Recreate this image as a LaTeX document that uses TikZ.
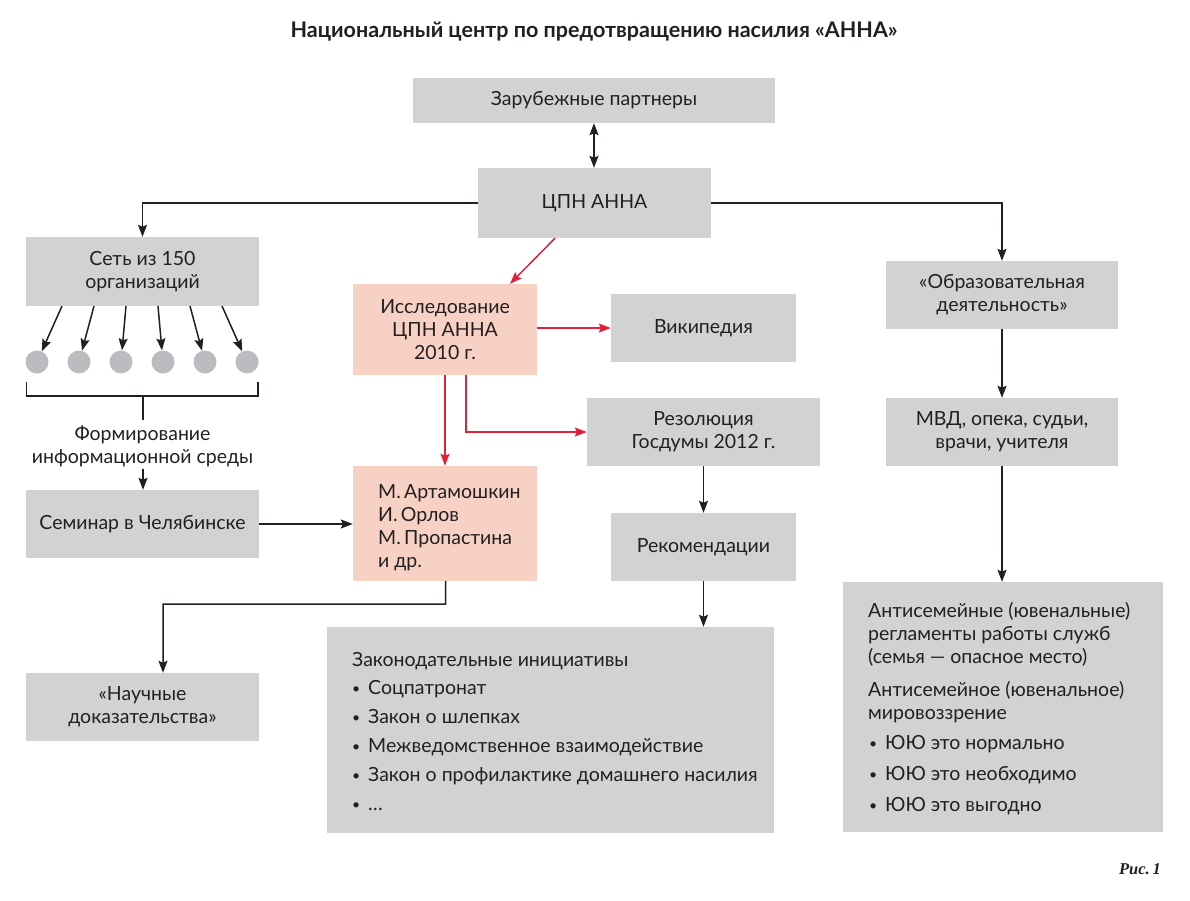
\documentclass[tikz,border=0pt]{standalone}
\usepackage{fontspec}
\setmainfont{Lato}
\newfontfamily\capfont{Liberation Serif}
\usetikzlibrary{arrows.meta,calc}
\definecolor{boxgray}{HTML}{D1D2D4}
\definecolor{boxpink}{HTML}{F7D1C4}
\definecolor{arrred}{HTML}{E0213B}
\definecolor{txt}{HTML}{231F20}
\definecolor{dotgray}{HTML}{BBBCBF}
\newcommand{\bul}{{\fontsize{14}{14}\selectfont\raisebox{0.5pt}{•}}}
\begin{document}
\begin{tikzpicture}[x=1pt,y=-1pt,
  every node/.style={text=txt},
  box/.style={fill=boxgray,draw=none,inner sep=0pt,align=center,font=\fontsize{19.5}{23}\selectfont},
  pbox/.style={box,fill=boxpink},
  lbl/.style={inner sep=0pt,anchor=base west,font=\fontsize{19.5}{23}\selectfont},
  arr/.style={-{Stealth[length=12pt,width=9pt,inset=2pt]},line width=1.5pt,draw=txt},
  darr/.style={{Stealth[length=12pt,width=9pt,inset=2pt]}-{Stealth[length=12pt,width=9pt,inset=2pt]},line width=1.5pt,draw=txt},
  rarr/.style={-{Stealth[length=12pt,width=9pt,inset=2pt]},line width=1.5pt,draw=arrred},
  plain/.style={line width=1.5pt,draw=txt},
  dot/.style={circle,fill=dotgray,draw=none,minimum size=23pt,inner sep=0pt}
]
\useasboundingbox (0,0) rectangle (1190,900);

\node[font=\fontsize{21.5}{24}\selectfont\bfseries] (title) at (594,32) {Национальный центр по предотвращению насилия «АННА»};

% boxes
\node[box,minimum width=362pt,minimum height=45pt] (zp) at (594,100.5) {Зарубежные партнеры};
\node[box,minimum width=233pt,minimum height=70pt] (cpn) at (594.5,203) {ЦПН АННА};
\node[box,minimum width=233pt,minimum height=69pt] (set) at (142.5,271.5) {Сеть из 150\\организаций};
\node[box,minimum width=232pt,minimum height=68pt] (obr) at (1002,295) {«Образовательная\\деятельность»};
\node[box,minimum width=232pt,minimum height=68pt] (mvd) at (1002,432) {МВД, опека, судьи,\\врачи, учителя};
\node[box,minimum width=320pt,minimum height=250pt] (anti) at (1003,707) {};
\node[pbox,minimum width=184pt,minimum height=91pt] (issl) at (445,329.5) {Исследование\\ЦПН АННА\\2010 г.};
\node[box,minimum width=185pt,minimum height=68pt] (wiki) at (703.5,328) {Википедия};
\node[box,minimum width=233pt,minimum height=68pt] (rez) at (703.5,432) {Резолюция\\Госдумы 2012 г.};
\node[pbox,minimum width=184pt,minimum height=115pt] (art) at (445,523.5) {};
\node[box,minimum width=233pt,minimum height=68pt] (sem) at (142.5,524) {Семинар в Челябинске};
\node[box,minimum width=185pt,minimum height=68pt] (rek) at (703.5,547) {Рекомендации};
\node[box,minimum width=447pt,minimum height=206pt] (zak) at (550.5,730) {};
\node[box,minimum width=233pt,minimum height=68pt] (nauch) at (142.5,707) {«Научные\\доказательства»};

% Artamoshkin text
\node[lbl] (a1) at (378,498) {М.\,Артамошкин};
\node[lbl] (a2) at (378,521) {И.\,Орлов};
\node[lbl] (a3) at (378,544) {М.\,Пропастина};
\node[lbl] (a4) at (378,567) {и др.};

% Zakonodatelnye text
\node[lbl] (z0) at (352,666) {Законодательные инициативы};
\node[lbl] (zb1) at (352,694) {\bul};
\node[lbl] (z1) at (368,694) {Соцпатронат};
\node[lbl] (zb2) at (352,723) {\bul};
\node[lbl] (z2) at (368,723) {Закон о шлепках};
\node[lbl] (zb3) at (352,752) {\bul};
\node[lbl] (z3) at (368,752) {Межведомственное взаимодействие};
\node[lbl] (zb4) at (352,781) {\bul};
\node[lbl] (z4) at (368,781) {Закон о профилактике домашнего насилия};
\node[lbl] (zb5) at (352,810) {\bul};
\node[lbl] (z5) at (368,810) {…};

% Antisemeinye text
\node[lbl] (t1) at (868,617) {Антисемейные (ювенальные)};
\node[lbl] (t2) at (868,640) {регламенты работы служб};
\node[lbl] (t3) at (868,663) {(семья — опасное место)};
\node[lbl] (t4) at (868,696) {Антисемейное (ювенальное)};
\node[lbl] (t5) at (868,719) {мировоззрение};
\node[lbl] (tb1) at (869,749) {\bul};
\node[lbl] (tt1) at (885,749) {ЮЮ это нормально};
\node[lbl] (tb2) at (869,780) {\bul};
\node[lbl] (tt2) at (885,780) {ЮЮ это необходимо};
\node[lbl] (tb3) at (869,811) {\bul};
\node[lbl] (tt3) at (885,811) {ЮЮ это выгодно};

% dots
\foreach \i in {1,...,6}{
  \node[dot] (c\i) at ({37+42*(\i-1)},362) {};
  \coordinate (s\i) at ({62+32*(\i-1)},306);
  \draw[arr] (s\i) -- (c\i);
}

% bracket
\coordinate (b1) at (26.5,382);
\coordinate (b2) at (26.5,396);
\coordinate (b3) at (258,396);
\coordinate (b4) at (258,382);
\coordinate (b5) at (143,396);
\coordinate (b6) at (143,420);
\draw[plain] (b1) -- (b2) -- (b3) -- (b4);
\draw[plain] (b5) -- (b6);

\node[inner sep=0pt,align=center,font=\fontsize{19.5}{23}\selectfont] (form) at (142.5,446) {Формирование\\информационной среды};
\draw[arr] (form.south -| b6) ++(0,2) -- (sem.north -| b6);

% connectors
\draw[darr] (zp.south) -- (cpn.north -| zp.south);
\draw[arr] (cpn.west) -| (set.north);
\draw[arr] (cpn.east) -| (obr.north);
\draw[arr] (obr.south) -- (mvd.north);
\draw[arr] (mvd.south) -- (mvd.south |- anti.north);
\draw[arr] (rez.south) -- (rek.north);
\draw[arr] (rek.south) -- (rek.south |- zak.north);
\draw[arr] (sem.east) -- (sem.east -| art.west);
\coordinate (n1) at ($(art.south)+(0.5,23)$);
\coordinate (n2) at (163,604);
\draw[arr] (art.south) ++(0.5,0) -- (n1) -- (n2) -- (n2 |- nauch.north);

% red
\draw[rarr] ([xshift=-39.5pt]cpn.south) -- ([xshift=65pt]issl.north);
\draw[rarr] (issl.east |- wiki.west) -- (wiki.west);
\draw[rarr] ([xshift=21pt]issl.south) |- (rez.west);
\draw[rarr] (issl.south) -- (art.north);

\node[font=\capfont\fontsize{16.5}{18}\selectfont\bfseries\itshape] (ris) at (1140,869) {Рис.\,1};
\end{tikzpicture}
\end{document}
